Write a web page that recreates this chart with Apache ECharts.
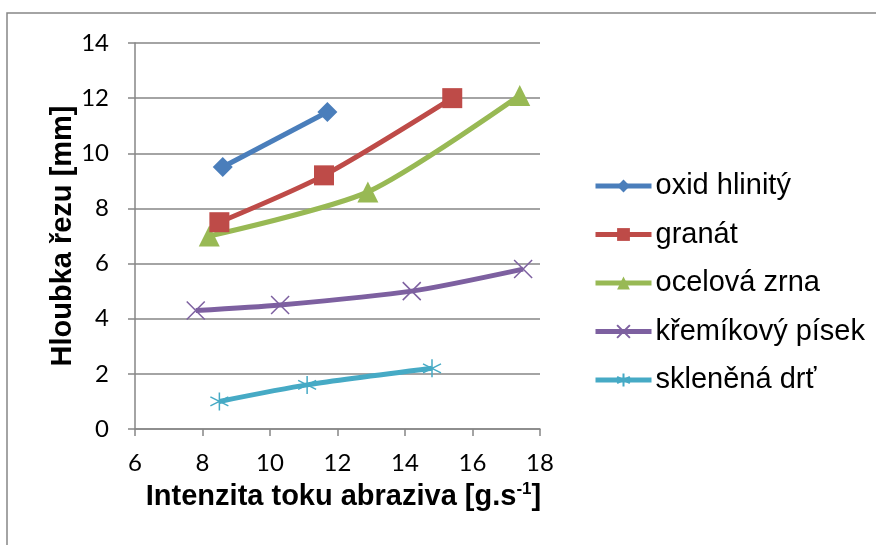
<!DOCTYPE html>
<html><head><meta charset="utf-8">
<script src="https://cdn.jsdelivr.net/npm/echarts@6/dist/echarts.min.js"></script>
<style>html,body{margin:0;padding:0;background:#fff}#c{width:876px;height:545px}</style>
</head><body><div id="c"></div>
<script>
const seriesNames = ['oxid hlinitý','granát','ocelová zrna','křemíkový písek','skleněná drť'];
const oxidX = [8.6, 11.7];
const oxidY = [9.5, 11.5];
const granatX = [8.5, 11.6, 15.4];
const granatY = [7.5, 9.2, 12.0];
const ocelX = [8.2, 12.9, 17.4];
const ocelY = [7.0, 8.6, 12.1];
const kremX = [7.8, 10.3, 14.2, 17.5];
const kremY = [4.3, 4.5, 5.0, 5.8];
const sklX = [8.5, 11.1, 14.8];
const sklY = [1.0, 1.6, 2.2];
const xTicks = [6, 8, 10, 12, 14, 16, 18];
const yTicks = [0, 2, 4, 6, 8, 10, 12, 14];

const colors = ['#4A7EBB','#BE4B48','#98B954','#7D60A0','#46AAC5'];
const crossPath = 'path://M-10,-10L10,10M-10,10L10,-10';
const starPath = 'path://M0,-10L0,10M-8.7,-5L8.7,5M-8.7,5L8.7,-5';
const symbols = ['diamond','rect','triangle', crossPath, starPath];
const sizes = [20, 20, 21, 18, 18];
const xs = [oxidX, granatX, ocelX, kremX, sklX];
const ys = [oxidY, granatY, ocelY, kremY, sklY];

function pairs(a, b){ return a.map((v,i)=>[v,b[i]]); }

const series = seriesNames.map((n,i)=>{
  const isLine = i >= 3;
  return {
    name: n, type: 'line', data: pairs(xs[i], ys[i]),
    smooth: 0.25,
    symbol: symbols[i], symbolSize: sizes[i], showAllSymbol: true,
    lineStyle: {color: colors[i], width: 5},
    itemStyle: isLine ? {color: 'rgba(0,0,0,0)', borderColor: colors[i], borderWidth: 1.5} : {color: colors[i], borderWidth: 0},
    emphasis: {disabled: true},
    z: 10 - i
  };
});

const tickFont = "Lato";
const chart = echarts.init(document.getElementById('c'), null, {renderer: 'canvas'});
chart.setOption({
  animation: false,
  backgroundColor: '#fff',
  grid: {left: 135, top: 43, width: 405, height: 386, containLabel: false},
  xAxis: {
    type: 'value', min: 6, max: 18, interval: 2,
    name: 'Intenzita toku abraziva [g.s{sup|-1}]',
    nameLocation: 'middle', nameGap: 52,
    nameTextStyle: {fontFamily: 'Liberation Sans', fontWeight: 'bold', fontSize: 29, color: '#000', padding: [0,0,0,12],
      rich: {sup: {fontFamily: 'Liberation Sans', fontWeight: 'bold', fontSize: 17, verticalAlign: 'top', padding: [0,0,14,0], color: '#000'}}},
    axisLine: {show: true, lineStyle: {color: '#868686', width: 1.5}},
    axisTick: {show: true, inside: false, length: 7, lineStyle: {color: '#868686', width: 1.5}},
    axisLabel: {fontFamily: tickFont, fontSize: 24, color: '#000', margin: 22},
    splitLine: {show: false}
  },
  yAxis: {
    type: 'value', min: 0, max: 14, interval: 2,
    name: 'Hloubka řezu [mm]', nameLocation: 'middle', nameGap: 58,
    nameTextStyle: {fontFamily: 'Liberation Sans', fontWeight: 'bold', fontSize: 29, color: '#000'},
    axisLine: {show: true, lineStyle: {color: '#868686', width: 1.5}},
    axisTick: {show: true, inside: false, length: 7, lineStyle: {color: '#868686', width: 1.5}},
    axisLabel: {fontFamily: tickFont, fontSize: 24, color: '#000', margin: 26},
    splitLine: {show: true, lineStyle: {color: '#868686', width: 1.5}}
  },
  legend: {
    orient: 'vertical', left: 593, top: 171, itemGap: 18.5, padding: 0,
    itemWidth: 56, itemHeight: 16,
    lineStyle: {width: 5},
    textStyle: {fontFamily: 'Liberation Sans', fontSize: 29, lineHeight: 30, color: '#000', padding: [0,0,0,-1]},
    data: seriesNames
  },
  graphic: [{type: 'rect', shape: {x: 7, y: 13, width: 900, height: 600}, style: {fill: 'none', stroke: '#868686', lineWidth: 1.5}, silent: true}],
  series: series
});
</script></body></html>
